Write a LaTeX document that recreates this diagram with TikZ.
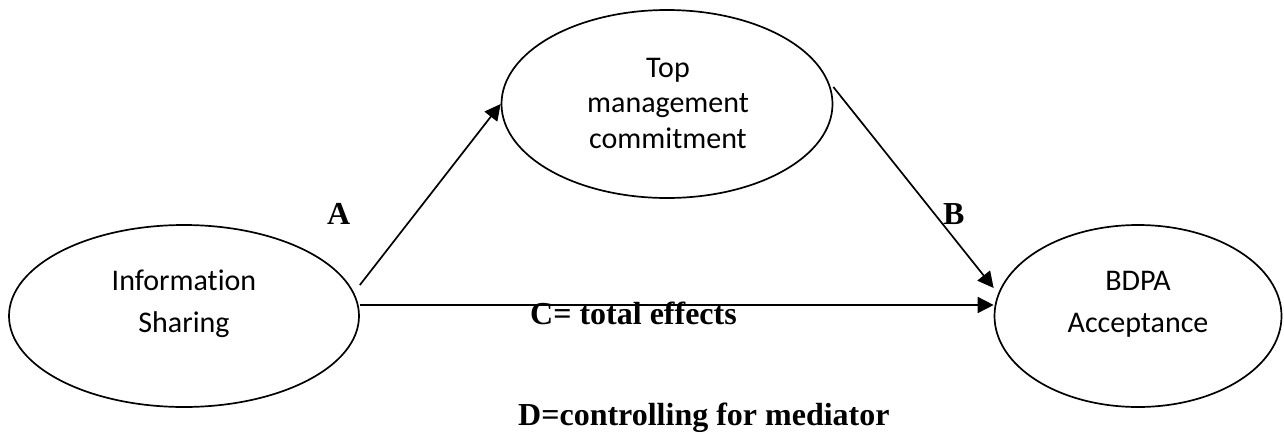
\documentclass[tikz,border=0pt]{standalone}
\usepackage{fontspec}
\usetikzlibrary{shapes.geometric,arrows.meta}
\newfontfamily\calib[Ligatures=NoCommon]{Carlito}
\newfontfamily\tnr{Liberation Serif}
\begin{document}
\begin{tikzpicture}[x=1pt,y=-1pt,
  oval/.style={draw, line width=1.7pt, ellipse, inner sep=0pt},
  intext/.style={inner sep=0pt, align=center, font=\calib\fontsize{30}{42}\selectfont},
  lab/.style={inner sep=0pt, anchor=base west, font=\tnr\bfseries\fontsize{32}{36}\selectfont},
  conn/.style={line width=1.7pt, -{Triangle[length=16pt,width=16pt]}}]
\useasboundingbox (0,0) rectangle (1284,434);
\node[oval, minimum width=350pt, minimum height=182pt] (is) at (184,316) {};
\node[oval, minimum width=331pt, minimum height=188pt] (tm) at (667,104) {};
\node[oval, minimum width=287pt, minimum height=182pt] (bd) at (1138,316) {};
\node[intext, anchor=base] (ist) at (184,332) {Information\\Sharing};
\node[intext, anchor=base, font=\calib\fontsize{30}{35.5}\selectfont] (tmt) at (668,148) {Top\\management\\commitment};
\node[intext, anchor=base] (bdt) at (1138,332) {BDPA\\Acceptance};
\node[lab] (la) at (327,224) {A};
\node[lab] (lb) at (943,224) {B};
\node[lab] (lc) at (530,324) {C= total effects};
\node[lab] (ld) at (518,425) {D=controlling for mediator};
\draw[conn] ([yshift=31pt]is.east) -- (tm.west);
\draw[conn] ([yshift=17pt]tm.east) -- ([yshift=28pt]bd.west);
\draw[conn] ([yshift=11pt]is.east) -- ([yshift=11pt]bd.west);
\end{tikzpicture}
\end{document}
